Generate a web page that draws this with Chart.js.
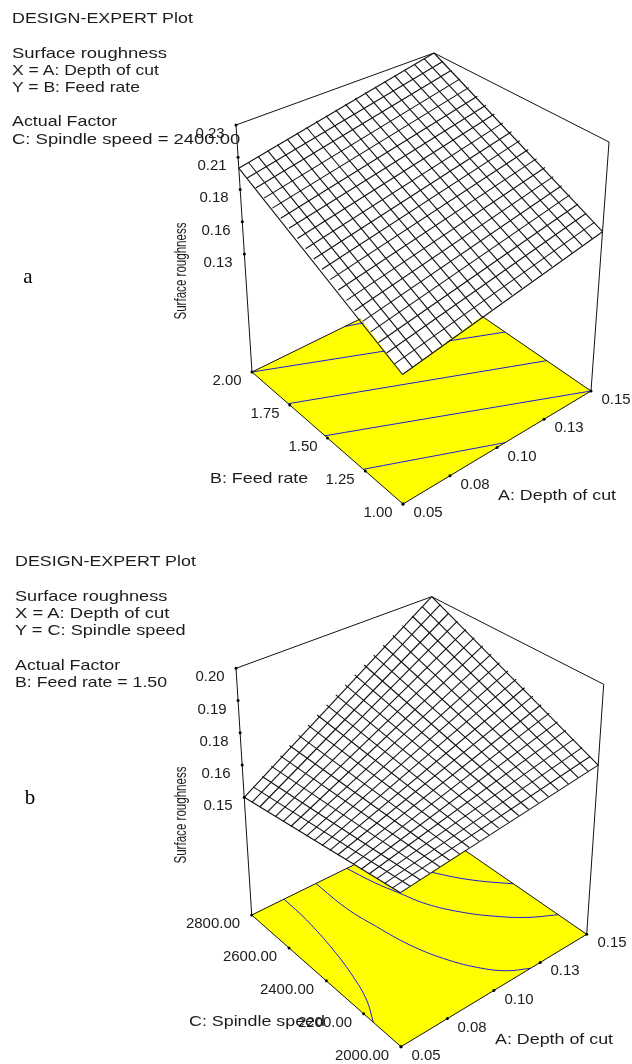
<!DOCTYPE html>
<html>
<head>
<meta charset="utf-8">
<title>Surface roughness</title>
<script src="https://cdn.jsdelivr.net/npm/chart.js@4"></script>
<style>
html, body { margin: 0; padding: 0; background: #fff; }
#page { position: relative; width: 632px; height: 1064px; overflow: hidden; }
canvas { position: absolute; left: 0; }
.t { position: absolute; white-space: pre; color: #1c1c1c; font-family: "Liberation Sans", Arial, sans-serif; line-height: 1; }
</style>
</head>
<body>
<div id="page">
  <canvas id="plotA" width="632" height="532" style="top:0"></canvas>
  <canvas id="plotB" width="632" height="532" style="top:532px"></canvas>
</div>
<script>
// axis values
var depthTicks = [0.05, 0.075, 0.10, 0.125, 0.15];
var depthLabels = ['0.05', '0.08', '0.10', '0.13', '0.15'];
var feedTicks = [1.00, 1.25, 1.50, 1.75, 2.00];
var feedLabels = ['1.00', '1.25', '1.50', '1.75', '2.00'];
var speedTicks = [2000, 2200, 2400, 2600, 2800];
var speedLabels = ['2000.00', '2200.00', '2400.00', '2600.00', '2800.00'];
var roughTicksA = [0.13, 0.155, 0.18, 0.205, 0.23];
var roughLabelsA = ['0.13', '0.16', '0.18', '0.21', '0.23'];
var roughTicksB = [0.15, 0.1625, 0.175, 0.1875, 0.20];
var roughLabelsB = ['0.15', '0.16', '0.18', '0.19', '0.20'];

// mesh grid lines
var depthGrid = [0.05, 0.055, 0.06, 0.065, 0.07, 0.075, 0.08, 0.085, 0.09, 0.095, 0.10, 0.105, 0.11, 0.115, 0.12, 0.125, 0.13, 0.135, 0.14, 0.145, 0.15];
var feedGrid = [1.00, 1.05, 1.10, 1.15, 1.20, 1.25, 1.30, 1.35, 1.40, 1.45, 1.50, 1.55, 1.60, 1.65, 1.70, 1.75, 1.80, 1.85, 1.90, 1.95, 2.00];
var speedGrid = [2000, 2040, 2080, 2120, 2160, 2200, 2240, 2280, 2320, 2360, 2400, 2440, 2480, 2520, 2560, 2600, 2640, 2680, 2720, 2760, 2800];

// plot a: roughness along the four edges of the surface
var roughAtFeedLow = [.1300, .1316, .1331, .1347, .1362, .1378, .1393, .1409, .1424, .1440, .1455, .1471, .1486, .1502, .1517, .1533, .1548, .1564, .1579, .1595, .1610];
var roughAtFeedHigh = [.1965, .1982, .1999, .2015, .2032, .2049, .2066, .2082, .2099, .2116, .2133, .2149, .2166, .2183, .2200, .2216, .2233, .2250, .2267, .2283, .2300];
var roughAtDepthLowA = [.1300, .1333, .1367, .1400, .1433, .1466, .1500, .1533, .1566, .1599, .1633, .1666, .1699, .1732, .1766, .1799, .1832, .1865, .1899, .1932, .1965];
var roughAtDepthHighA = [.1610, .1645, .1679, .1714, .1748, .1783, .1817, .1852, .1886, .1921, .1955, .1990, .2024, .2059, .2093, .2128, .2162, .2197, .2231, .2266, .2300];

// plot b: same edges, depth of cut against spindle speed
var roughAtSpeedLow = [.1588, .1593, .1598, .1603, .1609, .1614, .1619, .1624, .1629, .1634, .1640, .1645, .1650, .1655, .1660, .1665, .1670, .1676, .1681, .1686, .1691];
var roughAtSpeedHigh = [.1500, .1525, .1550, .1575, .1600, .1625, .1650, .1675, .1700, .1725, .1750, .1775, .1800, .1825, .1850, .1875, .1900, .1925, .1950, .1975, .2000];
var roughAtDepthLowB = [.1588, .1584, .1579, .1575, .1570, .1566, .1562, .1557, .1553, .1548, .1544, .1540, .1535, .1531, .1526, .1522, .1518, .1513, .1509, .1504, .1500];
var roughAtDepthHighB = [.1691, .1706, .1722, .1737, .1753, .1768, .1784, .1799, .1815, .1830, .1846, .1861, .1876, .1892, .1907, .1923, .1938, .1954, .1969, .1985, .2000];

// contour lines on the floor, [depth, feed] or [depth, speed]
var contoursA = [
    [[0.1012, 2.00], [0.15, 1.81]],
    [[0.05, 2.00], [0.15, 1.546]],
    [[0.05, 1.76], [0.15, 1.281]],
    [[0.05, 1.517], [0.15, 1.00]],
    [[0.05, 1.263], [0.1043, 1.00]]
];
var contoursB = [
    [[0.068, 2800], [0.0673, 2673], [0.0644, 2503], [0.0606, 2360], [0.0561, 2244], [0.05, 2148]],
    [[0.0858, 2800], [0.0858, 2638], [0.0883, 2503], [0.0917, 2361], [0.097, 2236], [0.1038, 2128], [0.1116, 2046], [0.1198, 2000]],
    [[0.103, 2800], [0.106, 2690], [0.11, 2587], [0.1141, 2487], [0.1214, 2382], [0.1299, 2291], [0.1395, 2209], [0.15, 2146]],
    [[0.1295, 2606], [0.1359, 2520], [0.1427, 2446], [0.15, 2377]]
];

// box corners on the canvas, used by the projection
var viewA = {
    floor: { front: [403, 504], right: [591, 391], left: [252, 372], back: [433.5, 283] },
    top: { front: [402, 233], right: [609, 142], left: [236, 125], back: [434, 53] },
    zFloor: 0.0385, zTop: 0.23
};
var viewB = {
    floor: { front: [401, 514.7], right: [586.7, 402.3], left: [251.7, 383], back: [431, 295] },
    top: { front: [400, 244], right: [603.7, 152.3], left: [236, 136.3], back: [431.7, 64.7] },
    zFloor: 0.1044, zTop: 0.20
};

var page = document.getElementById('page');

function addText(str, x, y, opts) {
    opts = opts || {};
    var el = document.createElement('span');
    var size = opts.size || 14;
    var sx = opts.sx || 1;
    el.className = 't';
    el.textContent = str;
    el.style.left = x + 'px';
    el.style.top = y + 'px';
    el.style.fontSize = size + 'px';
    if (opts.font) el.style.fontFamily = opts.font;
    if (opts.color) el.style.color = opts.color;
    if (opts.rotate) {
        el.style.transformOrigin = 'center center';
        el.style.transform = 'translate(-50%,-50%) rotate(' + opts.rotate + 'deg) scaleX(' + sx + ')';
    } else if (opts.center) {
        el.style.transformOrigin = 'center center';
        el.style.transform = 'translate(-50%,-50%) scaleX(' + sx + ')';
    } else {
        el.style.transformOrigin = 'left center';
        el.style.transform = 'translateY(-50%) scaleX(' + sx + ')';
    }
    page.appendChild(el);
}

function mix(p, q, t) {
    return [p[0] + (q[0] - p[0]) * t, p[1] + (q[1] - p[1]) * t];
}

function cornerMix(c, u, v) {
    return mix(mix(c.front, c.right, u), mix(c.left, c.back, u), v);
}

function makeProject(view, xTicks, yTicks) {
    var x0 = xTicks[0], x1 = xTicks[xTicks.length - 1];
    var y0 = yTicks[0], y1 = yTicks[yTicks.length - 1];
    return function(a, b, z) {
        var u = (a - x0) / (x1 - x0);
        var v = (b - y0) / (y1 - y0);
        var w = z === null ? 0 : (z - view.zFloor) / (view.zTop - view.zFloor);
        var p = mix(cornerMix(view.floor, u, v), cornerMix(view.top, u, v), w);
        return { x: p[0], y: p[1] };
    };
}

function lineSet(points, color, width, tension) {
    return {
        data: points, showLine: true, borderColor: color, borderWidth: width,
        pointRadius: 0, tension: tension || 0, fill: false
    };
}

function shapeSet(points, color) {
    return {
        data: points, showLine: true, borderColor: color, backgroundColor: color, borderWidth: 0,
        pointRadius: 0, tension: 0, fill: 'shape'
    };
}

function drawPlot(id, top, view, cfg) {
    var project = makeProject(view, depthTicks, cfg.yTicks);
    var aMin = depthTicks[0], aMax = depthTicks[4];
    var bMin = cfg.yTicks[0], bMax = cfg.yTicks[4];
    var zMax = view.zTop;
    var black = '#111111';
    var sets = [];

    // yellow floor with its contours
    sets.push(shapeSet([project(aMin, bMin, null), project(aMax, bMin, null), project(aMax, bMax, null), project(aMin, bMax, null), project(aMin, bMin, null)], '#ffff00'));
    cfg.contours.forEach(function(c) {
        sets.push(lineSet(c.map(function(p) { return project(p[0], p[1], null); }), '#1c1ce0', 1, 0.4));
    });
    sets.push(lineSet([project(aMin, bMax, null), project(aMin, bMin, null), project(aMax, bMin, null), project(aMax, bMax, null), project(aMin, bMax, null)], black, 1));

    // box edges behind the surface
    sets.push(lineSet([project(aMin, bMax, null), project(aMin, bMax, zMax), project(aMax, bMax, zMax), project(aMax, bMin, zMax), project(aMax, bMin, null)], black, 1));

    // surface: white sheet first, then the mesh on it
    var outline = [];
    var i;
    for (i = 0; i < 21; i++) outline.push(project(depthGrid[i], bMin, cfg.zLow[i]));
    for (i = 0; i < 21; i++) outline.push(project(aMax, cfg.yGrid[i], cfg.zRight[i]));
    for (i = 20; i >= 0; i--) outline.push(project(depthGrid[i], bMax, cfg.zHigh[i]));
    for (i = 20; i >= 0; i--) outline.push(project(aMin, cfg.yGrid[i], cfg.zLeft[i]));
    sets.push(shapeSet(outline, '#ffffff'));
    for (i = 0; i < 21; i++) {
        sets.push(lineSet([project(depthGrid[i], bMin, cfg.zLow[i]), project(depthGrid[i], bMax, cfg.zHigh[i])], black, 1.1));
        sets.push(lineSet([project(aMin, cfg.yGrid[i], cfg.zLeft[i]), project(aMax, cfg.yGrid[i], cfg.zRight[i])], black, 1.1));
    }

    // tick dots
    var dots = [];
    depthTicks.forEach(function(t) { dots.push(project(t, bMin, null)); });
    cfg.yTicks.forEach(function(t) { dots.push(project(aMin, t, null)); });
    cfg.zTicks.forEach(function(t) { dots.push(project(aMin, bMax, t)); });
    sets.push({ data: dots, showLine: false, pointRadius: 1.5, pointBackgroundColor: '#000', pointBorderWidth: 0 });

    // first dataset is painted last in Chart.js
    sets.reverse();

    var canvas = document.getElementById(id);
    var chart = new Chart(canvas.getContext('2d'), {
        type: 'scatter',
        data: { datasets: sets },
        options: {
            responsive: false,
            animation: false,
            layout: { padding: 0, autoPadding: false },
            plugins: { legend: { display: false }, tooltip: { enabled: false } },
            scales: {
                x: { type: 'linear', display: false, min: 0, max: 632 },
                y: { type: 'linear', display: false, min: 0, max: 532, reverse: true }
            }
        }
    });

    // tick labels follow the chart scales
    function tickLabel(str, p, dx, dy) {
        addText(str, chart.scales.x.getPixelForValue(p.x) + dx, top + chart.scales.y.getPixelForValue(p.y) + dy, { center: true, size: 14, sx: 1.07 });
    }
    depthTicks.forEach(function(t, n) { tickLabel(depthLabels[n], project(t, bMin, null), 25, 8); });
    cfg.yTicks.forEach(function(t, n) { tickLabel(cfg.yLabels[n], project(aMin, t, null), cfg.yLabelDx, 8); });
    cfg.zTicks.forEach(function(t, n) { tickLabel(cfg.zLabels[n], project(aMin, bMax, t), -26, 8); });
}

drawPlot('plotA', 0, viewA, {
    yTicks: feedTicks, yLabels: feedLabels, yLabelDx: -25, yGrid: feedGrid,
    zTicks: roughTicksA, zLabels: roughLabelsA,
    zLow: roughAtFeedLow, zHigh: roughAtFeedHigh, zLeft: roughAtDepthLowA, zRight: roughAtDepthHighA,
    contours: contoursA
});
drawPlot('plotB', 532, viewB, {
    yTicks: speedTicks, yLabels: speedLabels, yLabelDx: -39, yGrid: speedGrid,
    zTicks: roughTicksB, zLabels: roughLabelsB,
    zLow: roughAtSpeedLow, zHigh: roughAtSpeedHigh, zLeft: roughAtDepthLowB, zRight: roughAtDepthHighB,
    contours: contoursB
});

// header notes
var note = { size: 15, sx: 1.19 };
var noteWide = { size: 15, sx: 1.23 };
addText('DESIGN-EXPERT Plot', 12, 16.5, note);
addText('Surface roughness', 12, 52, noteWide);
addText('X = A: Depth of cut', 12, 69, { size: 15, sx: 1.17 });
addText('Y = B: Feed rate', 12, 86, { size: 15, sx: 1.17 });
addText('Actual Factor', 12, 120, note);
addText('C: Spindle speed = 2400.00', 12, 138, noteWide);
addText('DESIGN-EXPERT Plot', 15, 560, note);
addText('Surface roughness', 15, 595, { size: 15, sx: 1.21 });
addText('X = A: Depth of cut', 15, 612, noteWide);
addText('Y = C: Spindle speed', 15, 629, { size: 15, sx: 1.21 });
addText('Actual Factor', 15, 664, note);
addText('B: Feed rate = 1.50', 15, 681, { size: 15, sx: 1.18 });

// axis titles
addText('B: Feed rate', 210, 477, note);
addText('A: Depth of cut', 498, 494, note);
addText('C: Spindle speed', 189, 1020, note);
addText('A: Depth of cut', 495, 1038, note);
addText('Surface roughness', 180, 271, { rotate: -90, size: 17, sx: 0.68 });
addText('Surface roughness', 180, 815, { rotate: -90, size: 17, sx: 0.68 });

// panel letters
addText('a', 28, 276, { center: true, size: 21, font: '"Liberation Serif", serif', color: '#000' });
addText('b', 30, 797, { center: true, size: 21, font: '"Liberation Serif", serif', color: '#000' });
</script>
</body>
</html>
